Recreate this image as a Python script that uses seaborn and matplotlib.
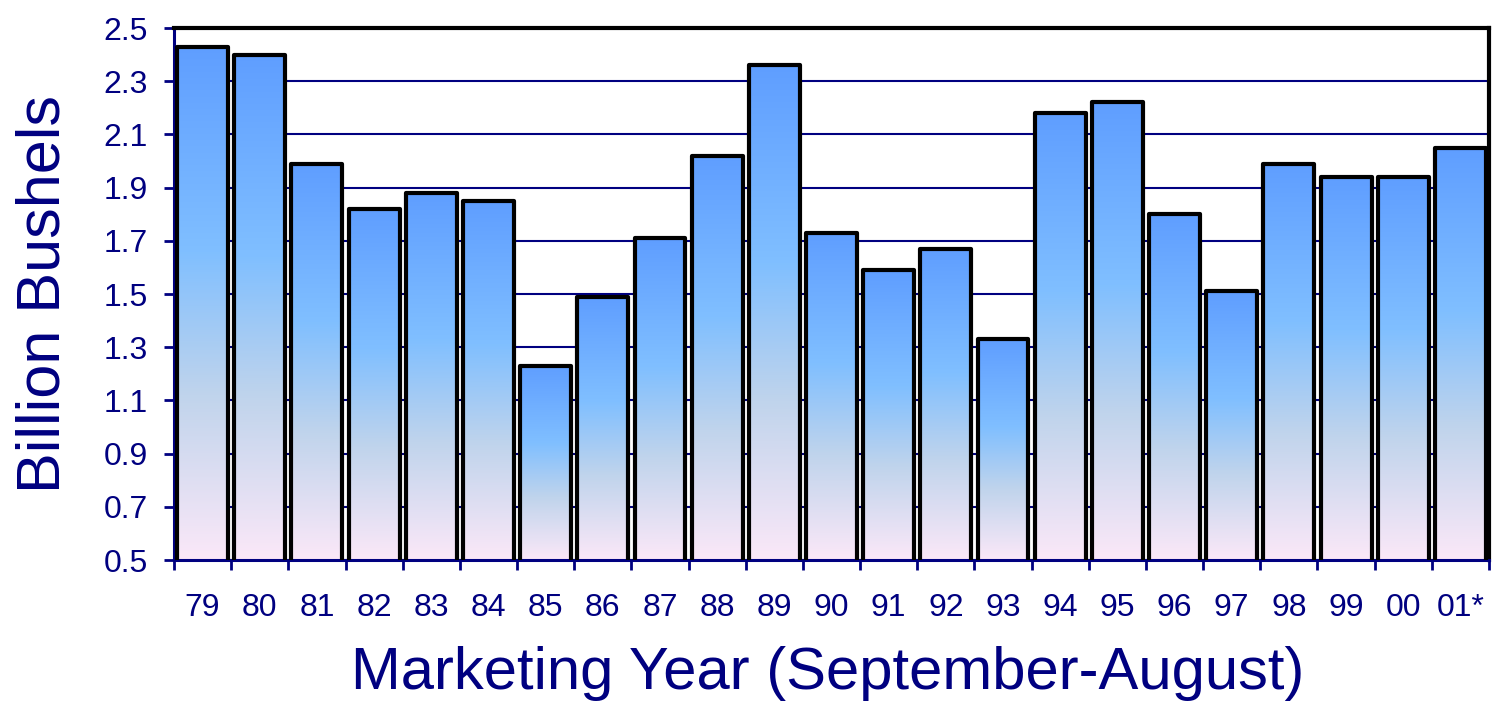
import numpy as np
import matplotlib.pyplot as plt
import seaborn as sns
from matplotlib.colors import LinearSegmentedColormap

years = ['79', '80', '81', '82', '83', '84', '85', '86', '87', '88', '89', '90',
         '91', '92', '93', '94', '95', '96', '97', '98', '99', '00', '01*']
bushels = [2.43, 2.40, 1.99, 1.82, 1.88, 1.85, 1.23, 1.49, 1.71, 2.02, 2.36, 1.73,
           1.59, 1.67, 1.33, 2.18, 2.22, 1.80, 1.51, 1.99, 1.94, 1.94, 2.05]
yticks = [0.5, 0.7, 0.9, 1.1, 1.3, 1.5, 1.7, 1.9, 2.1, 2.3, 2.5]

navy = '#000080'
sns.set_style('white')
plt.rcParams['font.family'] = ['Liberation Sans', 'DejaVu Sans']

fig, ax = plt.subplots(figsize=(14.93, 7.24), dpi=100)
fig.subplots_adjust(left=174/1493, right=1489/1493, top=1-28/724, bottom=1-560/724)

sns.barplot(x=years, y=bushels, width=0.89, color='white', edgecolor='black',
            linewidth=3, ax=ax)

# vertical gradient inside each bar
cmap = LinearSegmentedColormap.from_list(
    'bar', [(0, '#fbe8f8'), (0.32, '#c0d4ec'), (0.6, '#80bfff'), (1, '#5f9eff')])
grad = np.linspace(0, 1, 256).reshape(-1, 1)
for p in ax.patches:
    x0 = p.get_x()
    w = p.get_width()
    h = p.get_height()
    ax.imshow(grad, extent=(x0, x0 + w, 0.5, h), origin='lower', cmap=cmap,
              aspect='auto', zorder=2, interpolation='bilinear')
    p.set_facecolor('none')
    p.set_zorder(3)
    p.set_joinstyle('round')

ax.set_xlim(-0.5, len(years) - 0.5)
ax.set_ylim(0.5, 2.5)
ax.set_yticks(yticks)
ax.set_yticklabels([f'{v:.1f}' for v in yticks])
ax.set_xticks(np.arange(-0.5, len(years), 1.0), minor=True)

ax.set_axisbelow(True)
ax.yaxis.grid(True, color=navy, linewidth=1.5)
ax.xaxis.grid(False)

ax.tick_params(axis='x', which='major', length=0, pad=24, labelsize=23, labelcolor=navy)
ax.tick_params(axis='x', which='minor', length=7, width=2, color=navy, direction='out', bottom=True)
ax.tick_params(axis='y', length=7, width=2, color=navy, direction='out', left=True,
               pad=12, labelsize=23, labelcolor=navy)

for s in ['top', 'right']:
    ax.spines[s].set_color('black')
    ax.spines[s].set_linewidth(3)
for s in ['left', 'bottom']:
    ax.spines[s].set_color(navy)
    ax.spines[s].set_linewidth(2.2)

ax.set_ylabel('Billion Bushels', fontsize=44, color=navy)
ax.yaxis.set_label_coords(-0.077, 0.5)
ax.set_xlabel('Marketing Year (September-August)', fontsize=43, color=navy)
ax.xaxis.set_label_coords(0.497, -0.161)

fig.savefig('out.png', dpi=100)
